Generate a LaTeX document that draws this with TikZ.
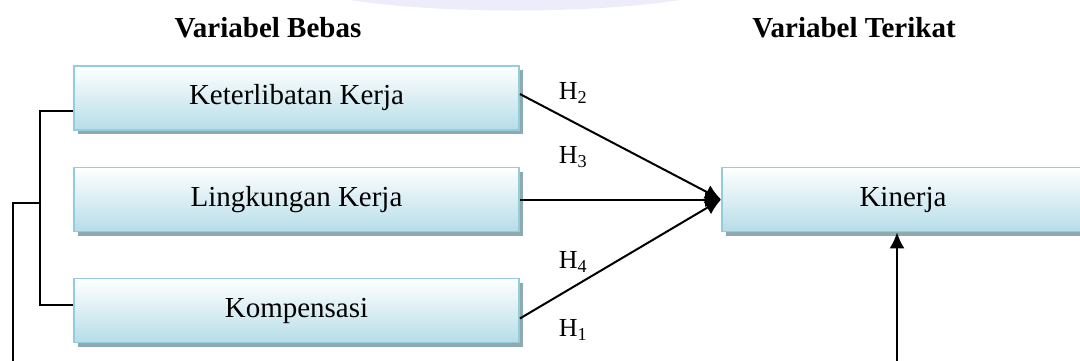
\documentclass[tikz,border=0pt]{standalone}
\usepackage{fontspec}
\setmainfont{Liberation Serif}
\usetikzlibrary{positioning,arrows.meta,shadows}
\definecolor{boxline}{HTML}{92CDDC}
\definecolor{boxfill}{HTML}{B6DDE8}
\definecolor{boxshade}{HTML}{8FA9B1}
\definecolor{markgray}{HTML}{ECECFA}

\begin{document}
\begin{tikzpicture}[
    % GLOBAL CFG
    x=1pt, y=-1pt,
    font=\fontsize{29}{34}\selectfont,
    >={Latex[length=16pt,width=15pt]},
    % Styles
    varbox/.style={% box of a variable
        rectangle,
        draw=boxline,
        line width=1.8pt,
        top color=white,
        bottom color=boxfill,
        drop shadow={shadow xshift=4pt, shadow yshift=-4pt, fill=boxshade, opacity=1},
        minimum height=64pt,
        inner sep=0pt,
        },
    head/.style={% column headers
        font=\fontsize{29}{34}\selectfont\bfseries
        },
    hyp/.style={% hypothesis labels
        font=\fontsize{26}{30}\selectfont
        },
    ArrowH/.style={% arrows into the dependent variable
        ->,
        line width=2pt,
        },
    Link/.style={% joining lines on the left
        line width=2pt,
        },
    ]

\useasboundingbox (0,0) rectangle (1080,360);
\clip (0,0) rectangle (1080,360);

    % faint mark at the top
    \fill[markgray] (350,0) .. controls (440,14) and (590,14) .. (680,0) -- cycle;

    % Headers
    \node[head] (hdr1) at (268,28) {Variabel Bebas};
    \node[head] (hdr2) at (854,28) {Variabel Terikat};

    % Independent variables named box#
    \node[varbox, minimum width=445pt] (box1) at (296.5,98) {Keterlibatan Kerja};
    \node[varbox, minimum width=445pt] (box2) at (296.5,199.5) {Lingkungan Kerja};
    \node[varbox, minimum width=445pt] (box3) at (296.5,310.5) {Kompensasi};

    % Dependent variable
    \node[varbox, minimum width=362pt] (kin) at (903,199.5) {Kinerja};

    % Hypotheses named h#
    \node[hyp] (h2) at (573,93) {H\textsubscript{2}};
    \node[hyp] (h3) at (573,157) {H\textsubscript{3}};
    \node[hyp] (h4) at (573,262) {H\textsubscript{4}};
    \node[hyp] (h1) at (573,330) {H\textsubscript{1}};

% Connecting
    \draw [ArrowH] ([yshift=4pt]box1.east) -- (kin.west);
    \draw [ArrowH] (box2.east) -- (kin.west);
    \draw [ArrowH] ([yshift=-8pt]box3.east) -- (kin.west);

    % Left bracket
    \draw [Link] ([yshift=-13pt]box1.west) -| ([xshift=-33pt,yshift=6pt]box3.west) -- ([yshift=6pt]box3.west);
    \coordinate (brk) at (41,203);
    \coordinate (low) at (13,400);
    \draw [ArrowH] (brk) -| (low) -| ([xshift=-6pt]kin.south);

\end{tikzpicture}
\end{document}
